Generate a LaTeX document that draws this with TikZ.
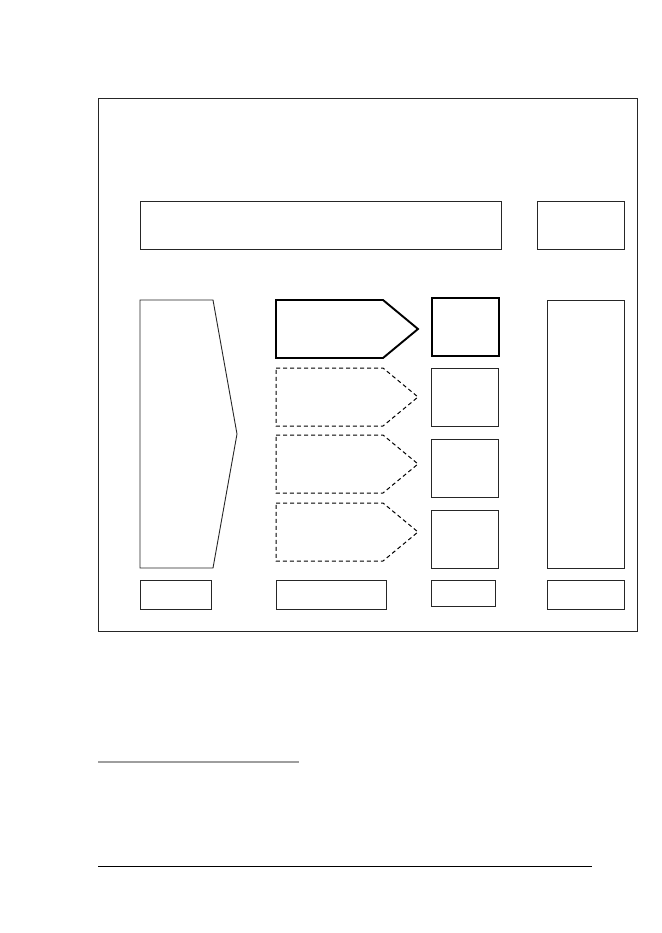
\documentclass[tikz,border=0pt]{standalone}
\begin{document}
\begin{tikzpicture}[x=1pt,y=-1pt,
  boxline/.style={draw=black!85, line width=0.9pt},
  thickline/.style={draw=black, line width=1.9pt},
  dashline/.style={draw=black, line width=1pt, dash pattern=on 4pt off 3pt},
  plainbox/.style={boxline, rectangle, inner sep=0pt, anchor=north west}]
\useasboundingbox (0,0) rectangle (661,933);
% outer frame
\node[plainbox, minimum width=539pt, minimum height=533pt] (frame) at (98,98) {};
% top row
\node[plainbox, minimum width=361pt, minimum height=48pt] (topwide) at (140,201) {};
\node[plainbox, minimum width=87pt, minimum height=48pt] (topright) at (537,201) {};
% left pentagon
\draw[boxline] (140,300) -- (213,300) -- (237,434) -- (213,568) -- (140,568) -- cycle;
% thick arrow
\draw[thickline, line join=miter] (276,300) -- (383,300) -- (418,329) -- (383,358) -- (276,358) -- cycle;
% dashed arrows
\draw[dashline] (276,368) -- (383,368) -- (418,397) -- (383,426) -- (276,426) -- cycle;
\draw[dashline] (276,435) -- (383,435) -- (418,464) -- (383,493) -- (276,493) -- cycle;
\draw[dashline] (276,503) -- (383,503) -- (418,532) -- (383,561) -- (276,561) -- cycle;
% small squares
\node[rectangle, thickline, line width=1.6pt, inner sep=0pt, anchor=north west, minimum width=67pt, minimum height=58pt] (sq1) at (431,297) {};
\node[plainbox, minimum width=67pt, minimum height=58pt] (sq2) at (431,368) {};
\node[plainbox, minimum width=67pt, minimum height=58pt] (sq3) at (431,439) {};
\node[plainbox, minimum width=67pt, minimum height=58pt] (sq4) at (431,510) {};
% right tall box
\node[plainbox, minimum width=77pt, minimum height=268pt] (rtall) at (547,300) {};
% bottom row
\node[plainbox, minimum width=71pt, minimum height=29pt] (b1) at (140,580) {};
\node[plainbox, minimum width=110pt, minimum height=29pt] (b2) at (276,580) {};
\node[plainbox, minimum width=64pt, minimum height=26pt] (b3) at (431,580) {};
\node[plainbox, minimum width=77pt, minimum height=29pt] (b4) at (547,580) {};
% footnote rules
\coordinate (g1) at (98,762);
\coordinate (g2) at (299,762);
\draw[draw=black!38, line width=1.5pt] (g1) -- (g2);
\coordinate (k1) at (98,866);
\coordinate (k2) at (592,866);
\draw[draw=black, line width=1pt] (k1) -- (k2);
\end{tikzpicture}
\end{document}
